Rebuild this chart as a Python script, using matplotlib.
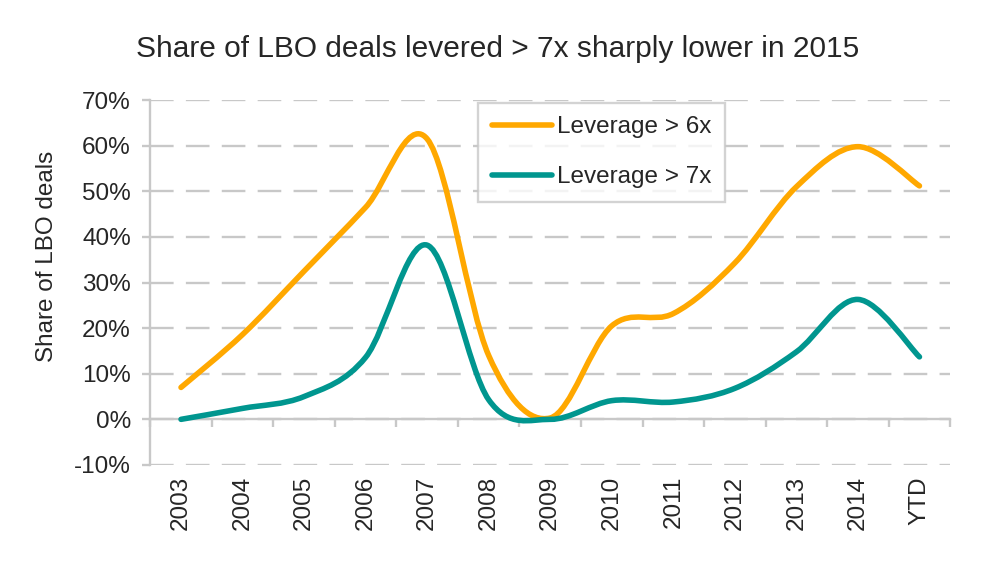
import matplotlib
matplotlib.use("Agg")
import matplotlib.pyplot as plt
from matplotlib.path import Path
from matplotlib.patches import PathPatch
from matplotlib.lines import Line2D
import numpy as np

plt.rcParams['font.family'] = ['Liberation Sans', 'DejaVu Sans']

years = ["2003", "2004", "2005", "2006", "2007", "2008", "2009",
         "2010", "2011", "2012", "2013", "2014", "YTD"]
lev_6x = [7, 18.6, 32.5, 46.5, 61.5, 14, 0.3, 20.5, 23.2, 34.3, 51, 59.8, 51.2]
lev_7x = [0, 2.4, 5, 13.6, 38.2, 4.3, 0, 4.1, 3.8, 6.8, 14.8, 26.3, 13.7]

ORANGE = "#FFA800"
TEAL = "#00968F"
GRID = "#C8C8C8"
TEXT = "#262626"
FS = 17.5


def smooth_path(xs, ys):
    # excel style smoothed line: cubic bezier through the points
    pts = np.column_stack([xs, ys]).astype(float)
    n = len(pts)
    verts = [pts[0]]
    codes = [Path.MOVETO]
    for i in range(n - 1):
        p0 = pts[i - 1] if i > 0 else pts[i]
        p1 = pts[i]
        p2 = pts[i + 1]
        p3 = pts[i + 2] if i + 2 < n else pts[i + 1]
        c1 = p1 + (p2 - p0) / 6
        c2 = p2 - (p3 - p1) / 6
        verts += [c1, c2, p2]
        codes += [Path.CURVE4] * 3
    return Path(verts, codes)


fig = plt.figure(figsize=(9.95, 5.79), dpi=100)
ax = fig.add_axes([0.151, 0.197, 0.804, 0.63])

x = np.arange(len(years))
for vals, col in [(lev_6x, ORANGE), (lev_7x, TEAL)]:
    patch = PathPatch(smooth_path(x, vals), facecolor="none", edgecolor=col,
                      lw=4, capstyle="round", joinstyle="round", zorder=3)
    ax.add_patch(patch)

ax.set_xlim(-0.5, len(years) - 0.5)
ax.set_ylim(-10, 70)
ax.set_yticks(range(-10, 71, 10))
ax.set_yticklabels([f"{v}%" for v in range(-10, 71, 10)])
ax.yaxis.grid(True, color=GRID, lw=1.7, linestyle=(0, (10, 5.2)))
ax.set_axisbelow(True)

for s in ["top", "right"]:
    ax.spines[s].set_visible(False)
ax.spines["left"].set_color(GRID)
ax.spines["left"].set_linewidth(1.7)
ax.spines["bottom"].set_position(("data", 0))
ax.spines["bottom"].set_color(GRID)
ax.spines["bottom"].set_linewidth(1.7)

ax.set_xticks(np.arange(len(years) + 1) - 0.5)
ax.set_xticklabels([])
ax.tick_params(axis="x", length=6, width=1.7, color=GRID)
ax.tick_params(axis="y", length=6, width=1.7, color=GRID, labelsize=FS,
               labelcolor=TEXT, pad=8)

sec = ax.secondary_xaxis("bottom")
sec.set_xticks(x)
sec.set_xticklabels(years, rotation=90, fontsize=FS, color=TEXT)
sec.tick_params(length=0, pad=8)
sec.spines["bottom"].set_visible(False)

ax.set_ylabel("Share of LBO deals", fontsize=FS, color=TEXT)
ax.yaxis.set_label_coords(-0.115, 0.571)
fig.text(0.5, 0.915, "Share of LBO deals levered > 7x sharply lower in 2015",
         fontsize=21.5, color=TEXT, ha="center", va="center")

handles = [Line2D([], [], color=ORANGE, lw=4, solid_capstyle="round"),
           Line2D([], [], color=TEAL, lw=4, solid_capstyle="round")]
leg = ax.legend(handles, ["Leverage > 6x", "Leverage > 7x"], loc="upper left",
                bbox_to_anchor=(0.41, 0.992), fontsize=FS, frameon=True,
                fancybox=False, edgecolor=GRID, handlelength=2.5,
                handletextpad=0.2, labelspacing=1.15, borderpad=0.55,
                borderaxespad=0)
leg.get_frame().set_linewidth(1.7)
for t in leg.get_texts():
    t.set_color(TEXT)

fig.savefig("out.png", dpi=100, facecolor="white")
